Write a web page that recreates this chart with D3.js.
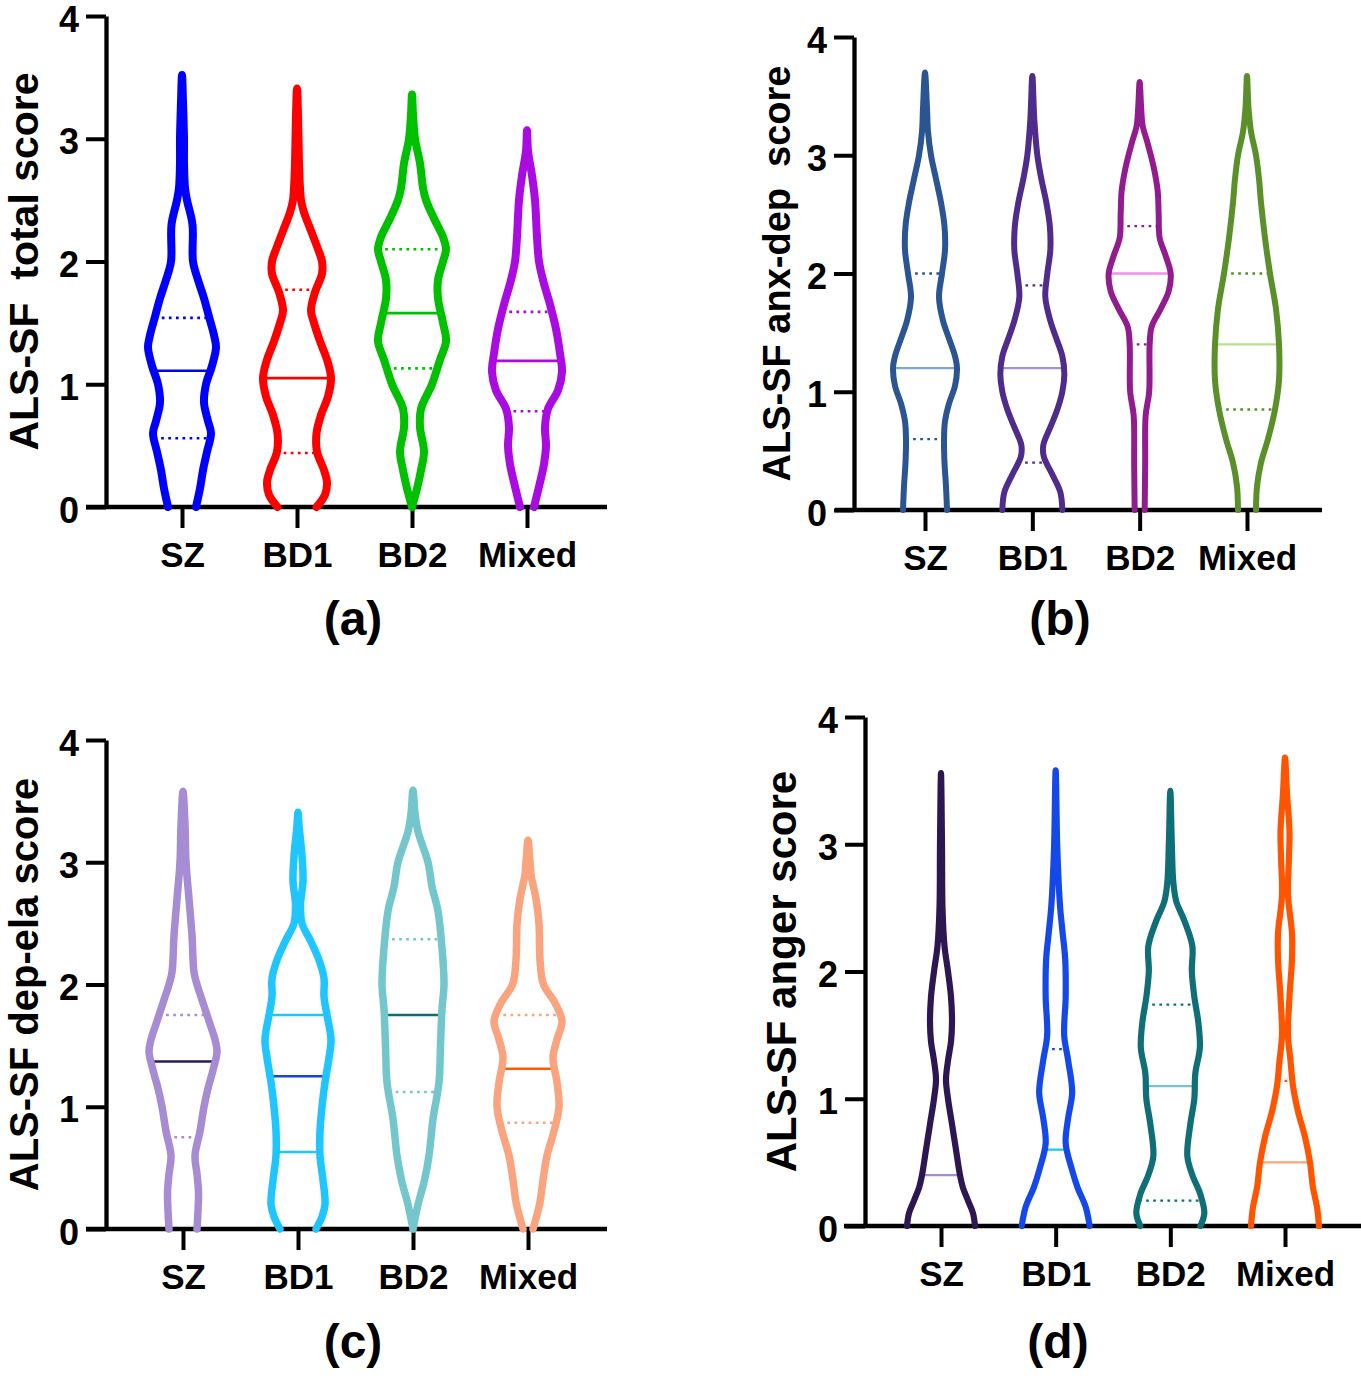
<!DOCTYPE html>
<html><head><meta charset="utf-8">
<script src="https://cdn.jsdelivr.net/npm/d3@7"></script>
<style>
body{margin:0;background:#fff}
text{font-family:"Liberation Sans",Arial,sans-serif;font-weight:bold;fill:#000}
</style>
</head><body>
<svg id="chart" width="1361" height="1378"></svg>
<script>
// ---------- data ----------
const categories = ["SZ", "BD1", "BD2", "Mixed"];
const yTicks = [0, 1, 2, 3, 4];

// violin profiles: [score, relative density], from top of violin down to 0
// (a) total score
const aSZ    = [[3.52,0],[3.3,1],[3.0,2],[2.8,2],[2.6,3],[2.5,5],[2.3,10.5],[2.0,11],[1.85,16],[1.7,22],[1.55,27],[1.4,32],[1.3,34],[1.15,30],[1.0,24],[0.85,22],[0.7,26],[0.6,29],[0.45,25],[0.3,21],[0.15,18],[0,14]];
const aBD1   = [[3.41,0],[3.2,1],[2.8,2],[2.6,3],[2.5,4],[2.4,7],[2.25,14],[2.1,21],[2.0,25],[1.9,25],[1.75,18],[1.6,14],[1.5,17],[1.35,23],[1.2,30],[1.05,34],[0.9,31],[0.75,24],[0.6,19.5],[0.45,20],[0.3,27],[0.2,30],[0.1,28],[0,19.5]];
const aBD2   = [[3.36,0],[3.2,1],[3.0,3],[2.8,8],[2.6,11],[2.5,14],[2.35,22],[2.2,31],[2.1,34],[2.0,31],[1.85,26],[1.7,26],[1.5,31],[1.35,34],[1.2,28],[1.0,20],[0.8,9],[0.65,8],[0.45,12],[0.3,9],[0.15,5],[0,0]];
const aMixed = [[3.07,0],[2.9,1],[2.7,5],[2.5,8],[2.2,10],[2.0,12],[1.85,16],[1.65,23],[1.45,29],[1.25,33],[1.1,35],[0.95,31],[0.8,21],[0.65,18],[0.5,19],[0.35,17],[0.2,13],[0,7]];
const aQ3  = [1.54, 1.77, 2.10, 1.59];
const aMed = [1.11, 1.05, 1.58, 1.19];
const aQ1  = [0.56, 0.44, 1.13, 0.78];

// (b) anx-dep score
const bSZ    = [[3.70,0],[3.4,2],[3.2,3],[3.0,6],[2.8,11],[2.6,16],[2.4,19.5],[2.2,20],[2.0,17],[1.8,14],[1.6,18],[1.45,24],[1.3,30],[1.2,32],[1.05,30],[0.9,24],[0.75,20],[0.6,19],[0.4,19.5],[0.2,21],[0,22]];
const bBD1   = [[3.67,0],[3.3,2],[3.0,5],[2.8,9],[2.6,14],[2.4,17.5],[2.2,18],[2.0,15],[1.8,13],[1.6,18],[1.45,24],[1.3,30],[1.15,32],[1.0,30],[0.85,25],[0.7,18],[0.55,11],[0.45,11.5],[0.3,20],[0.15,28],[0,30]];
const bBD2   = [[3.62,0],[3.4,1.5],[3.25,3],[3.1,8],[2.9,14],[2.7,18],[2.5,19],[2.3,20],[2.15,26],[2.0,31],[1.85,29],[1.7,21],[1.55,12],[1.4,10],[1.0,9.5],[0.8,6],[0.4,5.5],[0,5]];
const bMixed = [[3.67,0],[3.4,1.5],[3.2,4],[3.0,9],[2.8,12],[2.6,14],[2.3,18],[2.0,23],[1.7,29],[1.4,32],[1.1,32],[0.85,28],[0.6,21],[0.4,14],[0.2,10],[0,9]];
const bQ3  = [2.0, 1.9, 2.4, 2.0];
const bMed = [1.2, 1.2, 2.0, 1.4];
const bQ1  = [0.6, 0.4, 1.4, 0.85];

// (c) dep-ela score
const cSZ    = [[3.58,0],[3.3,2],[3.0,3],[2.7,6],[2.4,9],[2.1,11],[2.0,14],[1.85,20],[1.7,26],[1.55,32],[1.45,34],[1.3,30],[1.15,25],[1.0,21],[0.8,17],[0.6,12],[0.45,14],[0.3,15.5],[0.15,15],[0,14]];
const cBD1   = [[3.41,0],[3.3,1],[3.05,4],[2.85,5],[2.65,2.5],[2.5,4],[2.35,13],[2.2,21],[2.05,26],[1.9,26],[1.75,29],[1.55,33],[1.4,31],[1.2,27],[1.0,24],[0.8,22],[0.6,22],[0.4,25],[0.2,27],[0.1,24],[0,18]];
const cBD2   = [[3.59,0],[3.4,2],[3.25,5],[3.0,15],[2.8,19],[2.6,25],[2.3,29],[2.0,31],[1.8,29],[1.5,27.5],[1.2,26],[0.9,20],[0.6,16],[0.4,11.5],[0.2,5],[0,0]];
const cMixed = [[3.18,0],[3.0,2],[2.9,3],[2.7,8],[2.5,11],[2.2,12],[2.0,15.5],[1.85,27],[1.7,34],[1.55,29],[1.4,25],[1.2,29],[1.0,31],[0.8,26],[0.6,19],[0.4,15],[0.2,11.5],[0,5]];
const cQ3  = [1.75, 1.75, 2.37, 1.75];
const cMed = [1.37, 1.25, 1.75, 1.31];
const cQ1  = [0.75, 0.63, 1.12, 0.87];

// (d) anger score
const dSZ    = [[3.56,0],[3.0,1],[2.5,1.5],[2.2,3.5],[2.0,7],[1.8,10],[1.6,11],[1.45,10],[1.3,7],[1.15,5],[1.0,7],[0.8,11],[0.6,15],[0.4,19],[0.3,22],[0.2,27],[0.1,32],[0,34]];
const dBD1   = [[3.58,0],[3.0,1.5],[2.7,3],[2.5,4.5],[2.3,7],[2.1,9.5],[1.8,10],[1.5,8.5],[1.3,12.5],[1.05,16.5],[0.85,12.5],[0.65,10],[0.45,16],[0.3,22],[0.15,30],[0,34]];
const dBD2   = [[3.42,0],[3.0,1.5],[2.7,3],[2.55,6],[2.4,14],[2.2,22],[2.0,21.5],[1.8,24],[1.6,28],[1.4,29.5],[1.2,25],[1.0,24],[0.8,20],[0.55,17],[0.4,22],[0.25,30],[0.1,34],[0,30]];
const dMixed = [[3.68,0],[3.4,2],[3.1,4.5],[2.9,4],[2.6,3],[2.3,7],[2.1,7],[1.8,4.5],[1.5,3],[1.3,5.5],[1.1,8],[0.9,13],[0.7,20],[0.5,25],[0.3,28],[0.15,32],[0,34]];
const dQ3  = [1.14, 1.39, 1.74, 1.14];
const dMed = [0.40, 0.60, 1.10, 0.50];
const dQ1  = [0, 0, 0.20, 0];

// ---------- styles ----------
const aOutline = ["#0000ff", "#ff0000", "#00c000", "#a90be0"];
const bOutline = ["#2a5592", "#4f2c8c", "#921c8f", "#5a8f2a"];
const bMedCol  = ["#7ea6dc", "#a88ed8", "#ee90ee", "#b8e08c"];
const cOutline = ["#a58cd3", "#1ec5ff", "#73c7cc", "#f9a47e"];
const cMedCol  = ["#2b1a5c", "#1445e6", "#0e6e78", "#ff5a00"];
const dOutline = ["#2d1752", "#1448e8", "#0f6e78", "#ff5500"];
const dMedCol  = ["#a58cd3", "#1ec5ff", "#73c7cc", "#f9a47e"];

const panels = [
  { title: "ALS-SF  total score", label: "(a)",
    profiles: [aSZ, aBD1, aBD2, aMixed], q1: aQ1, med: aMed, q3: aQ3,
    outline: aOutline, medCol: aOutline, qCol: aOutline, qDotted: [true, true, true, true],
    L: { ax: 106, y0: 507, y4: 16, xs: 86, xe: 607, c0: 182, c1: 527, sw: 8, mw: 2.7,
         tX: 38, tSize: 41, lX: 353, lY: 635 } },
  { title: "ALS-SF anx-dep  score", label: "(b)",
    profiles: [bSZ, bBD1, bBD2, bMixed], q1: bQ1, med: bMed, q3: bQ3,
    outline: bOutline, medCol: bMedCol, qCol: bOutline, qDotted: [true, true, true, true],
    L: { ax: 854, y0: 510, y4: 37, xs: 835, xe: 1322, c0: 925, c1: 1247, sw: 6, mw: 2.3,
         tX: 790, tSize: 38, lX: 1060, lY: 635 } },
  { title: "ALS-SF dep-ela score", label: "(c)",
    profiles: [cSZ, cBD1, cBD2, cMixed], q1: cQ1, med: cMed, q3: cQ3,
    outline: cOutline, medCol: cMedCol, qCol: cOutline, qDotted: [true, false, true, true],
    L: { ax: 106, y0: 1229, y4: 740, xs: 86, xe: 607, c0: 183, c1: 528, sw: 7.5, mw: 2.5,
         tX: 38, tSize: 40, lX: 353, lY: 1358 } },
  { title: "ALS-SF anger score", label: "(d)",
    profiles: [dSZ, dBD1, dBD2, dMixed], q1: dQ1, med: dMed, q3: dQ3,
    outline: dOutline, medCol: dMedCol, qCol: dOutline, qDotted: [true, true, true, true],
    L: { ax: 865, y0: 1226, y4: 717, xs: 844, xe: 1361, c0: 941, c1: 1285, sw: 6.2, mw: 2.3,
         tX: 796, tSize: 42, lX: 1058, lY: 1358 } }
];

// ---------- drawing ----------
const svg = d3.select("#chart");
svg.append("rect").attr("width", 1361).attr("height", 1378).attr("fill", "#fff");

function densityAt(profile, v) {
  for (let i = 0; i < profile.length - 1; i++) {
    const [v1, d1] = profile[i], [v2, d2] = profile[i + 1];
    if (v <= v1 && v >= v2) {
      const t = v1 === v2 ? 0 : (v1 - v) / (v1 - v2);
      return d1 + t * (d2 - d1);
    }
  }
  return 0;
}

panels.forEach(p => {
  const L = p.L;
  const g = svg.append("g");
  const y = d3.scaleLinear().domain([0, 4]).range([L.y0, L.y4]);
  const x = d3.scalePoint().domain(categories).range([L.c0, L.c1]);
  const w = d3.scaleLinear().domain([0, 35]).range([0, 35]);

  // median / quartile lines
  categories.forEach((c, i) => {
    const prof = p.profiles[i];
    const cx = x(c);
    const lines = [
      { v: p.q3[i], col: p.qCol[i], dotted: p.qDotted[i] },
      { v: p.q1[i], col: p.qCol[i], dotted: p.qDotted[i] },
      { v: p.med[i], col: p.medCol[i], dotted: false }
    ];
    lines.forEach(l => {
      const hw = w(densityAt(prof, l.v));
      g.append("line")
        .attr("x1", cx - hw).attr("x2", cx + hw)
        .attr("y1", y(l.v)).attr("y2", y(l.v))
        .attr("stroke", l.col)
        .attr("stroke-width", L.mw)
        .attr("stroke-dasharray", l.dotted ? "2.7,4.4" : null);
    });
  });

  // axes
  const yAxis = d3.axisLeft(y).tickValues(yTicks).tickSize(20).tickSizeOuter(0).tickPadding(7).tickFormat(d3.format("d"));
  const ya = g.append("g").attr("transform", `translate(${L.ax},0)`).call(yAxis);
  ya.select(".domain").attr("stroke", "#000").attr("stroke-width", 4.3);
  ya.selectAll(".tick line").attr("stroke", "#000").attr("stroke-width", 4);
  ya.selectAll(".tick text").attr("font-size", 36).attr("dy", "0.42em")
    .style("font-family", '"Liberation Sans",Arial,sans-serif').style("font-weight", "bold");

  const xAxis = d3.axisBottom(x).tickSize(21).tickSizeOuter(0).tickPadding(14);
  const xa = g.append("g").attr("transform", `translate(0,${L.y0})`).call(xAxis);
  xa.select(".domain").attr("d", `M${L.xs},0H${L.xe}`).attr("stroke", "#000").attr("stroke-width", 4.5);
  xa.selectAll(".tick line").attr("stroke", "#000").attr("stroke-width", 4);
  xa.selectAll(".tick text").attr("font-size", 35)
    .style("font-family", '"Liberation Sans",Arial,sans-serif').style("font-weight", "bold");

  // violin outlines
  const line = d3.line().x(d => d[0]).y(d => d[1]).curve(d3.curveCatmullRom.alpha(0.5));
  categories.forEach((c, i) => {
    const prof = p.profiles[i];
    const cx = x(c);
    const left = prof.slice().reverse().map(([v, d]) => [cx - w(d), y(v)]);
    const right = prof.slice(1).map(([v, d]) => [cx + w(d), y(v)]);
    g.append("path")
      .attr("d", line(left.concat(right)))
      .attr("fill", "none")
      .attr("stroke", p.outline[i])
      .attr("stroke-width", L.sw)
      .attr("stroke-linecap", "round")
      .attr("stroke-linejoin", "round");
  });

  // y-axis title
  g.append("text")
    .attr("transform", `translate(${L.tX},${(L.y0 + L.y4) / 2}) rotate(-90)`)
    .attr("text-anchor", "middle")
    .attr("font-size", L.tSize)
    .style("white-space", "pre")
    .text(p.title);

  // panel label
  g.append("text")
    .attr("x", L.lX).attr("y", L.lY)
    .attr("text-anchor", "middle")
    .attr("font-size", 48)
    .text(p.label);
});
</script>
</body></html>
